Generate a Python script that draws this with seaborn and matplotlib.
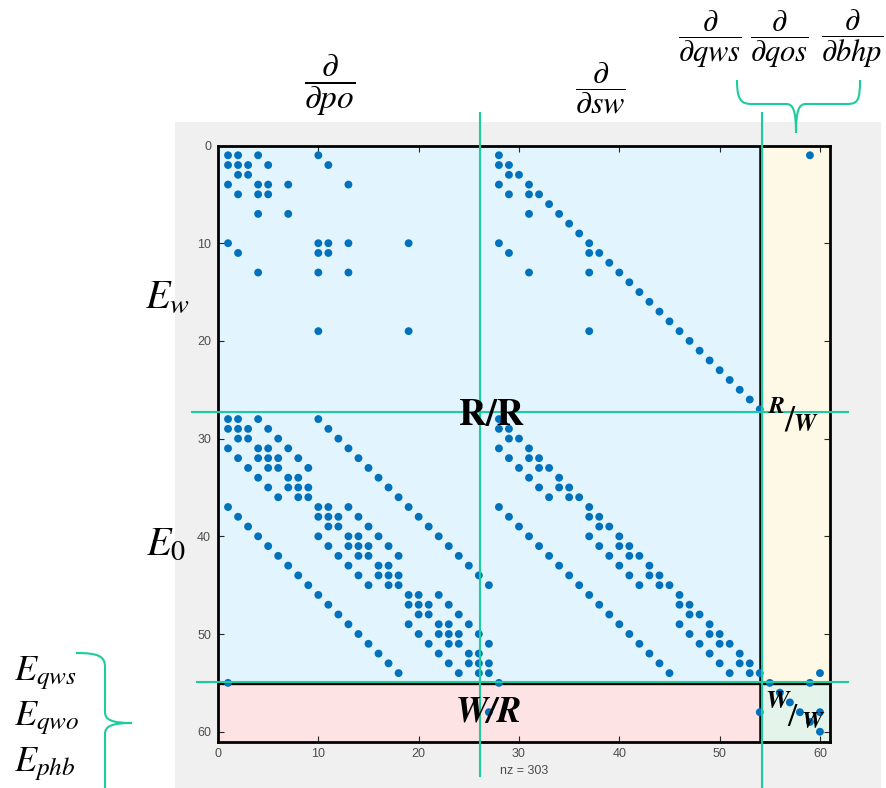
import numpy as np
import pandas as pd
import matplotlib
matplotlib.use("Agg")
import matplotlib.pyplot as plt
import seaborn as sns
from matplotlib.patches import Rectangle, PathPatch
from matplotlib.path import Path
from matplotlib.lines import Line2D

# ---------------- data (row index -> list of nonzero columns) ----------------
# water equations (rows 1-27) vs pressure unknowns
EW_PO_ROWS = [1, 2, 3, 4, 5, 7, 10, 11, 13, 19]
EW_PO_COLS = [[1, 2, 4, 10], [1, 2, 3, 5, 11], [2, 3], [1, 4, 5, 7, 13], [2, 4, 5],
              [4, 7], [1, 10, 11, 13, 19], [2, 10, 11], [4, 10, 13], [10, 19]]
# water equations vs saturation unknowns
EW_SW_ROWS = [1, 2, 3, 4, 5, 6, 7, 8, 9, 10, 11, 12, 13, 14, 15, 16, 17, 18, 19,
              20, 21, 22, 23, 24, 25, 26, 27]
EW_SW_COLS = [[28], [28, 29], [29, 30], [28, 31], [29, 31, 32], [33], [31, 34], [35], [36],
              [28, 37], [29, 37, 38], [39], [31, 37, 40], [41], [42], [43], [44], [45],
              [37, 46], [47], [48], [49], [50], [51], [52], [53], [54]]
# oil equations (rows 28-54) vs pressure unknowns
EO_PO_ROWS = [28, 29, 30, 31, 32, 33, 34, 35, 36, 37, 38, 39, 40, 41, 42, 43, 44, 45,
              46, 47, 48, 49, 50, 51, 52, 53, 54]
EO_PO_COLS = [[1, 2, 4, 10], [1, 2, 3, 5, 11], [2, 3, 6, 12], [1, 4, 5, 7, 13],
              [2, 4, 5, 6, 8, 14], [3, 5, 6, 9, 15], [4, 7, 8, 16], [5, 7, 8, 9, 17],
              [6, 8, 9, 18], [1, 10, 11, 13, 19], [2, 10, 11, 12, 14, 20],
              [3, 11, 12, 15, 21], [4, 10, 13, 14, 16, 22], [5, 11, 13, 14, 15, 17, 23],
              [6, 12, 14, 15, 18, 24], [7, 13, 16, 17, 25], [8, 14, 16, 17, 18, 26],
              [9, 15, 17, 18, 27], [10, 19, 20, 22], [11, 19, 20, 21, 23],
              [12, 20, 21, 24], [13, 19, 22, 23, 25], [14, 20, 22, 23, 24, 26],
              [15, 21, 23, 24, 27], [16, 22, 25, 26], [17, 23, 25, 26, 27],
              [18, 24, 26, 27]]
# oil equations vs saturation unknowns
EO_SW_ROWS = EO_PO_ROWS
EO_SW_COLS = [[28], [28, 29], [29, 30], [28, 31], [29, 31, 32], [30, 32, 33], [31, 34],
              [32, 34, 35], [33, 35, 36], [28, 37], [29, 37, 38], [30, 38, 39],
              [31, 37, 40], [32, 38, 40, 41], [33, 39, 41, 42], [34, 40, 43],
              [35, 41, 43, 44], [36, 42, 44, 45], [37, 46], [38, 46, 47], [39, 47, 48],
              [40, 46, 49], [41, 47, 49, 50], [42, 48, 50, 51], [43, 49, 52],
              [44, 50, 52, 53], [45, 51, 53, 54]]
# reservoir rows vs well unknowns
R_W_ROWS = [1, 54]
R_W_COLS = [[59], [60]]
# well equations (rows 55-60)
W_ROWS = [55, 56, 57, 58, 59, 60]
W_COLS = [[1, 28, 55, 59], [56], [57], [27, 54, 58, 60], [59], [60]]

TICKS = [0, 10, 20, 30, 40, 50, 60]

# ---------------- build table ----------------
recs = []
for rows, cols in [(EW_PO_ROWS, EW_PO_COLS), (EW_SW_ROWS, EW_SW_COLS),
                   (EO_PO_ROWS, EO_PO_COLS), (EO_SW_ROWS, EO_SW_COLS),
                   (R_W_ROWS, R_W_COLS), (W_ROWS, W_COLS)]:
    for r, cl in zip(rows, cols):
        for c in cl:
            recs.append((r, c))
df = pd.DataFrame(recs, columns=["row", "col"])

plt.rcParams["mathtext.fontset"] = "stix"

W, H = 886, 788
def fx(x):
    return x / W
def fy(y):
    return 1 - y / H

fig = plt.figure(figsize=(W / 100, H / 100), dpi=100)
fig.patch.set_facecolor("white")
fig.patches.append(Rectangle((fx(175), 0), fx(881) - fx(175), fy(122),
                             transform=fig.transFigure, facecolor="#F0F0F0",
                             edgecolor="none", zorder=-5))

ax = fig.add_axes([fx(218), fy(741.5), (830 - 218) / W, (741.5 - 145.5) / H])
ax.set_zorder(1)

# block backgrounds
ax.add_patch(Rectangle((0, 0), 54, 55, facecolor="#E2F4FD", edgecolor="none", zorder=0))
ax.add_patch(Rectangle((54, 0), 7, 55, facecolor="#FEF8E6", edgecolor="none", zorder=0))
ax.add_patch(Rectangle((0, 55), 54, 6, facecolor="#FEE3E4", edgecolor="none", zorder=0))
ax.add_patch(Rectangle((54, 55), 7, 6, facecolor="#E4F4EA", edgecolor="none", zorder=0))
ax.axvline(54, color="black", lw=1.8, zorder=2)
ax.axhline(55, color="black", lw=2.4, zorder=2)

sns.scatterplot(data=df, x="col", y="row", ax=ax, s=32, color="#0072BD",
                edgecolor="none", linewidth=0, legend=False, zorder=4)

ax.set_xlim(0, 61)
ax.set_ylim(61, 0)
ax.set_xticks(TICKS)
ax.set_yticks(TICKS)
ax.set_xticklabels([str(t) for t in TICKS], fontfamily="Liberation Sans")
ax.set_yticklabels([str(t) for t in TICKS], fontfamily="Liberation Sans")
ax.tick_params(direction="in", length=4, width=0.8, color="#262626",
               labelcolor="#4D4D4D", labelsize=9, top=True, right=True, pad=5)
ax.set_xlabel(f"nz = {len(df)}", fontsize=9, color="#4D4D4D",
              fontfamily="Liberation Sans", labelpad=3)
ax.set_ylabel("")
for sp in ax.spines.values():
    sp.set_color("black")
    sp.set_linewidth(2)

# teal guide lines
TEAL = "#1CCB9E"
for (x0, y0, x1, y1) in [(480, 113, 480, 776), (762, 113, 762, 788),
                         (192, 412, 848, 412), (197, 682, 848, 682)]:
    fig.add_artist(Line2D([fx(x0), fx(x1)], [fy(y0), fy(y1)], transform=fig.transFigure,
                          color=TEAL, lw=1.5, zorder=5))

def brace(verts, codes):
    p = Path([(fx(a), fy(b)) for a, b in verts], codes)
    fig.add_artist(PathPatch(p, transform=fig.transFigure, fill=False,
                             edgecolor=TEAL, lw=1.5, zorder=5))

M, C, L = Path.MOVETO, Path.CURVE4, Path.LINETO
# top brace
brace([(737, 80), (737, 100), (741, 104), (752, 104), (786, 104),
       (793, 104), (796, 110), (796, 133),
       (796, 110), (799, 104), (806, 104), (847, 104),
       (858, 104), (860, 100), (860, 80)],
      [M, C, C, C, L, C, C, C, C, C, C, L, C, C, C])
# left brace
brace([(76, 653), (98, 653), (105, 656), (105, 667), (105, 712),
       (105, 720), (112, 723), (132, 723),
       (112, 723), (105, 726), (105, 734), (105, 790)],
      [M, C, C, C, L, C, C, C, C, C, C, L])

# math labels
fig.text(fx(330), fy(85), r"$\dfrac{\partial}{\partial po}$", fontsize=24,
         ha="center", va="center")
fig.text(fx(600), fy(88), r"$\dfrac{\partial}{\partial sw}$", fontsize=23,
         ha="center", va="center")
fig.text(fx(710), fy(39), r"$\dfrac{\partial}{\partial qws}$", fontsize=22,
         ha="center", va="center")
fig.text(fx(779), fy(39), r"$\dfrac{\partial}{\partial qos}$", fontsize=22,
         ha="center", va="center")
fig.text(fx(852), fy(39), r"$\dfrac{\partial}{\partial bhp}$", fontsize=22,
         ha="center", va="center")

fig.text(fx(145), fy(308), r"$E_w$", fontsize=29, ha="left", va="baseline")
fig.text(fx(146), fy(555), r"$E_0$", fontsize=29, ha="left", va="baseline")
fig.text(fx(14), fy(680), r"$E_{qws}$", fontsize=26, ha="left", va="baseline")
fig.text(fx(14), fy(725), r"$E_{qwo}$", fontsize=26, ha="left", va="baseline")
fig.text(fx(14), fy(771), r"$E_{phb}$", fontsize=26, ha="left", va="baseline")

fig.text(fx(491), fy(425), "R/R", family="STIXGeneral", weight="bold",
         fontsize=27, ha="center", va="baseline", zorder=6)
fig.text(fx(489), fy(722), "W/R", family="STIXGeneral", weight="bold", style="italic",
         fontsize=26, ha="center", va="baseline", zorder=6)
# R/W
fig.text(fx(769), fy(413), "R", family="STIXGeneral", weight="bold", style="italic",
         fontsize=17, ha="left", va="baseline", zorder=6)
fig.text(fx(784), fy(431), "/", family="STIXGeneral", fontsize=26,
         ha="left", va="baseline", zorder=6)
fig.text(fx(793), fy(431), "W", family="STIXGeneral", weight="bold", style="italic",
         fontsize=18, ha="left", va="baseline", zorder=6)
# W/W
fig.text(fx(765), fy(708), "W", family="STIXGeneral", weight="bold", style="italic",
         fontsize=19, ha="left", va="baseline", zorder=6)
fig.text(fx(787), fy(726), "/", family="STIXGeneral", fontsize=24,
         ha="left", va="baseline", zorder=6)
fig.text(fx(801), fy(728), "W", family="STIXGeneral", weight="bold", style="italic",
         fontsize=17, ha="left", va="baseline", zorder=6)

fig.savefig("out.png", dpi=100)
